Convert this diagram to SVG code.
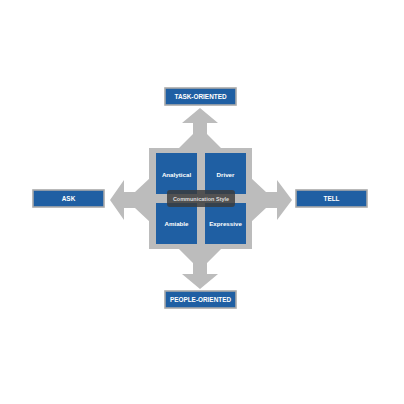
<svg xmlns="http://www.w3.org/2000/svg" width="404" height="404" viewBox="0 0 404 404">
<style>
.arrow{fill:#bcbcbc}
.hub{fill:#bcbcbc}
.quad{fill:#1f5fa3}
.lbl{fill:#1f5fa3;stroke:#a9a9a9;stroke-width:1.6}
.t{font-family:"Liberation Sans",Arial,sans-serif;font-weight:bold;fill:#ffffff;text-anchor:middle;dominant-baseline:central}
.q{font-size:6.2px}
.o{font-size:6.4px}
.c{font-size:5.5px;fill:#dcdcdc}
</style>
<rect width="404" height="404" fill="#ffffff"/>
<g id="connectors">
<polygon class="arrow" points="178,149 193,134 193,123 182,123 200,108 218,123 207,123 207,134 222,149"/>
<polygon class="arrow" points="178,248 193,263 193,274 182,274 200,289 218,274 207,274 207,263 222,248"/>
<polygon class="arrow" points="150,178 135,192 124,192 124,180 110,200 124,220 124,208 135,208 150,222"/>
<polygon class="arrow" points="251,178 266,192 277,192 277,180 292,200 277,220 277,208 266,208 251,222"/>
</g>
<g id="hub">
<rect class="hub" x="149" y="148" width="103" height="101"/>
</g>
<g id="analytical">
<rect class="quad" x="156" y="153" width="41" height="41"/>
<text class="t q" x="176.5" y="174">Analytical</text>
</g>
<g id="driver">
<rect class="quad" x="205" y="153" width="41" height="41"/>
<text class="t q" x="225.5" y="174">Driver</text>
</g>
<g id="amiable">
<rect class="quad" x="156" y="203" width="41" height="41"/>
<text class="t q" x="176.5" y="223">Amiable</text>
</g>
<g id="expressive">
<rect class="quad" x="205" y="203" width="41" height="41"/>
<text class="t q" x="225.5" y="223">Expressive</text>
</g>
<g id="communication-style">
<rect x="167" y="190" width="68" height="17" rx="3" fill="#3a3a3a" fill-opacity="0.82"/>
<text class="t c" x="201" y="198.5">Communication Style</text>
</g>
<g id="task-oriented">
<rect class="lbl" x="165" y="88" width="71" height="17"/>
<text class="t o" x="200.5" y="96.5">TASK-ORIENTED</text>
</g>
<g id="people-oriented">
<rect class="lbl" x="165" y="291" width="71" height="17"/>
<text class="t o" x="200.5" y="299.5">PEOPLE-ORIENTED</text>
</g>
<g id="ask">
<rect class="lbl" x="33" y="190" width="71" height="17"/>
<text class="t o" x="68.5" y="198.5">ASK</text>
</g>
<g id="tell">
<rect class="lbl" x="296" y="190" width="71" height="17"/>
<text class="t o" x="331.5" y="198.5">TELL</text>
</g>
</svg>
